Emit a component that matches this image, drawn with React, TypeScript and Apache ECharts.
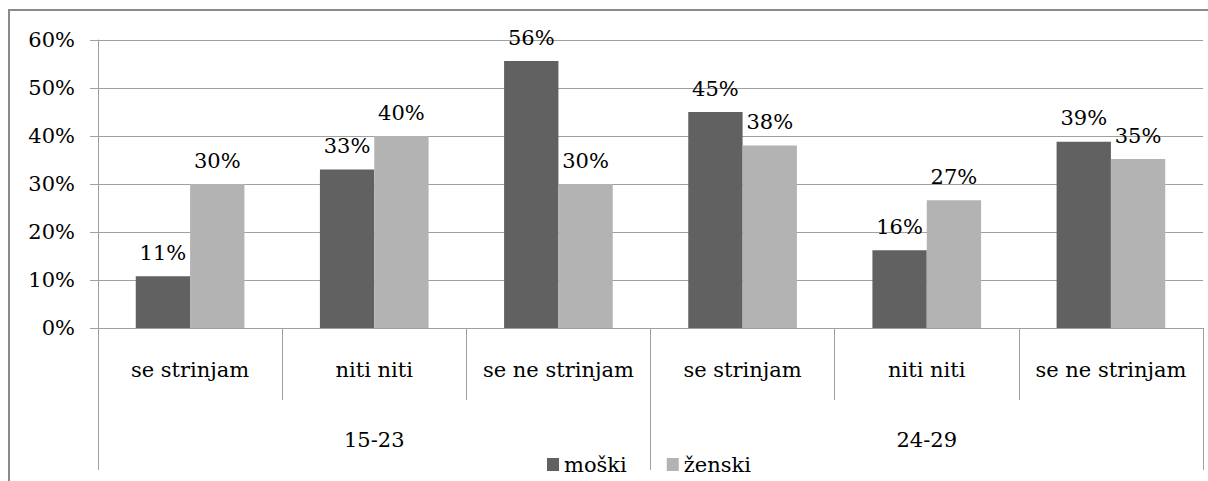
import React, { useEffect, useRef } from "react";
import * as echarts from "echarts";

const categories = ["se strinjam", "niti niti", "se ne strinjam", "se strinjam", "niti niti", "se ne strinjam"];
const groups = ["15-23", "24-29"];
const moski = [10.8, 33, 55.6, 45, 16.2, 38.8];
const zenski = [30, 40, 30, 38, 26.6, 35.2];
const yTicks = { min: 0, max: 60, interval: 10 };

const FONT = "DejaVu Serif";
const FS = 21;

export default function App() {
  const ref = useRef<HTMLDivElement>(null);
  useEffect(() => {
    if (!ref.current) return;
    const chart = echarts.init(ref.current, undefined, { renderer: "svg" });
    const gray = "#a0a0a0";
    const lbl = {
      show: true,
      position: "top",
      distance: 13,
      formatter: (p: any) => Math.round(p.value) + "%",
      fontFamily: FONT,
      fontSize: FS,
      color: "#000",
    };
    chart.setOption({
      animation: false,
      textStyle: { fontFamily: FONT },
      grid: { left: 98, right: 5, top: 40, bottom: 153, containLabel: false },
      legend: {
        data: ["moški", "ženski"],
        left: 542,
        top: 449,
        icon: "rect",
        itemWidth: 12,
        itemHeight: 13,
        itemGap: 40,
        textStyle: { fontFamily: FONT, fontSize: FS, color: "#000" },
      },
      graphic: [
        {
          type: "rect",
          shape: { x: 9, y: 10, width: 1400, height: 700 },
          style: { fill: "none", stroke: "#8a8a8a", lineWidth: 2 },
          silent: true,
        },
      ],
      xAxis: [
        {
          type: "category",
          data: categories,
          position: "bottom",
          axisLine: { show: true, lineStyle: { color: gray, width: 1 } },
          axisTick: { show: true, length: 72, interval: 0, lineStyle: { color: gray } },
          axisLabel: { interval: 0, margin: 31, fontFamily: FONT, fontSize: FS, color: "#000" },
        },
        {
          type: "category",
          data: groups,
          position: "bottom",
          axisLine: { show: false },
          axisTick: { show: true, length: 142, interval: 0, lineStyle: { color: gray } },
          axisLabel: { interval: 0, margin: 101, fontFamily: FONT, fontSize: FS, color: "#000" },
        },
      ],
      yAxis: {
        type: "value",
        min: yTicks.min,
        max: yTicks.max,
        interval: yTicks.interval,
        axisLine: { show: true, lineStyle: { color: gray } },
        axisTick: { show: true, length: 8, lineStyle: { color: gray } },
        axisLabel: { formatter: "{value}%", margin: 23, fontFamily: FONT, fontSize: FS, color: "#000" },
        splitLine: { show: true, lineStyle: { color: gray } },
      },
      series: [
        {
          name: "moški",
          type: "bar",
          xAxisIndex: 0,
          data: moski,
          barGap: "0%",
          barCategoryGap: "41%",
          itemStyle: { color: "#616161" },
          label: lbl,
        },
        {
          name: "ženski",
          type: "bar",
          xAxisIndex: 0,
          data: zenski,
          itemStyle: { color: "#b3b3b3" },
          label: lbl,
        },
      ],
    });
    return () => chart.dispose();
  }, []);
  return (
    <div
      ref={ref}
      style={{ position: "absolute", left: 0, top: 0, width: 1208, height: 481, background: "#fff" }}
    />
  );
}
